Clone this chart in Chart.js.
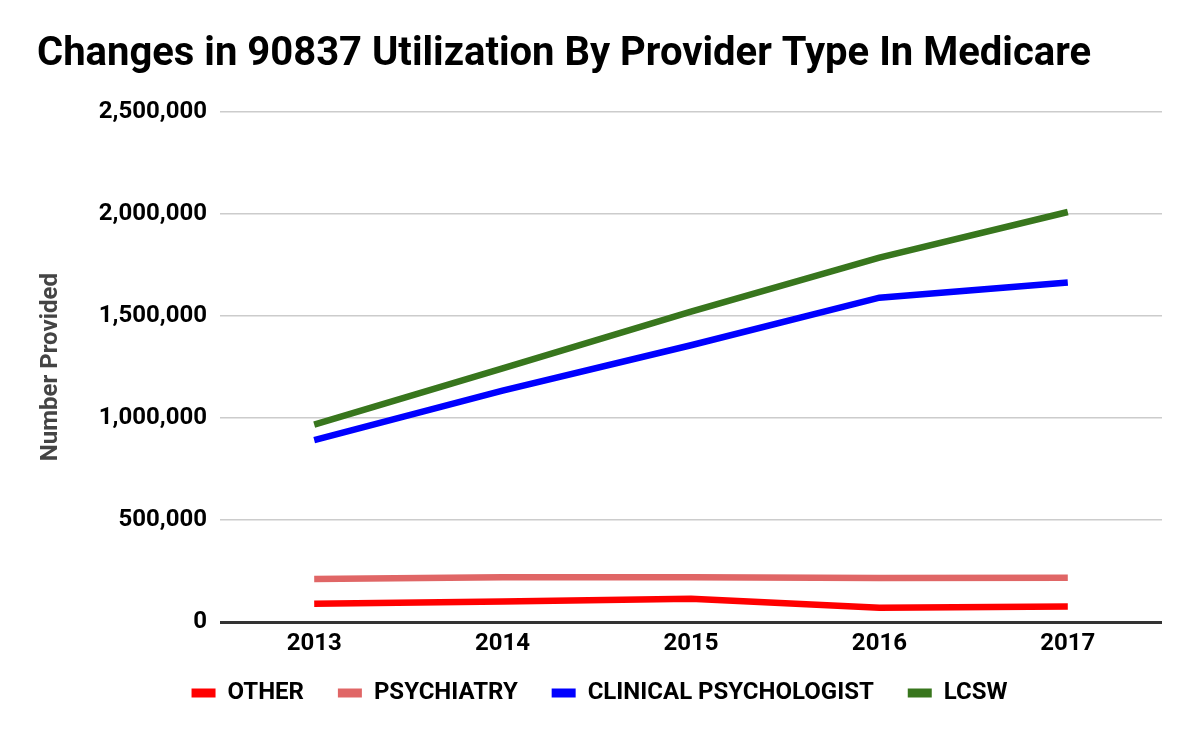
<!DOCTYPE html>
<html>
<head>
<meta charset="utf-8">
<script src="https://cdn.jsdelivr.net/npm/chart.js@4/dist/chart.umd.min.js"></script>
<style>
  html, body { margin: 0; padding: 0; background: #fff; }
  #wrap { width: 1200px; height: 742px; position: relative; }
</style>
</head>
<body>
<div id="wrap"><canvas id="c" width="1200" height="742"></canvas></div>
<script>
const years = ["2013", "2014", "2015", "2016", "2017"];
const other = [90000, 102000, 115000, 71000, 77000];
const psychiatry = [212000, 220000, 220000, 216000, 218000];
const clinicalPsychologist = [892000, 1135000, 1357000, 1590000, 1665000];
const lcsw = [968000, 1244000, 1522000, 1786000, 2010000];
const seriesNames = ["OTHER", "PSYCHIATRY", "CLINICAL PSYCHOLOGIST", "LCSW"];
const seriesColors = ["#ff0000", "#e06666", "#0000ff", "#38761d"];
const yMax = 2500000;
const yStep = 500000;

const FONT = "Roboto, 'Liberation Sans', sans-serif";
const seriesData = [other, psychiatry, clinicalPsychologist, lcsw];

new Chart(document.getElementById("c"), {
  type: "line",
  data: {
    labels: years,
    datasets: seriesNames.map((n, i) => ({
      label: n,
      data: seriesData[i],
      borderColor: seriesColors[i],
      backgroundColor: seriesColors[i],
      borderWidth: 6.5,
      pointRadius: 0,
      tension: 0,
      fill: false,
      borderCapStyle: "butt"
    }))
  },
  options: {
    responsive: false,
    animation: false,
    devicePixelRatio: 1,
    layout: { padding: { left: 37, right: 38, top: 0, bottom: 27 } },
    plugins: {
      title: {
        display: true,
        text: "Changes in 90837 Utilization By Provider Type In Medicare",
        align: "start",
        color: "#000",
        font: { family: FONT, size: 40, weight: "bold" },
        padding: { top: 31, bottom: 33 }
      },
      legend: {
        position: "bottom",
        labels: {
          color: "#000",
          font: { family: FONT, size: 24, weight: "bold" },
          boxWidth: 24,
          boxHeight: 9,
          padding: 16,
          generateLabels: chart => {
            const items = Chart.defaults.plugins.legend.labels.generateLabels(chart);
            return items.map((it, i) => Object.assign(it, {
              lineWidth: 0,
              strokeStyle: "rgba(0,0,0,0)",
              text: i < items.length - 1 ? it.text + "   " : it.text
            }));
          }
        }
      },
      tooltip: { enabled: false }
    },
    scales: {
      x: {
        offset: true,
        grid: { display: false, drawTicks: false },
        border: { display: false },
        ticks: {
          color: "#000",
          font: { family: FONT, size: 24, weight: "bold" },
          padding: 7
        }
      },
      y: {
        min: 0,
        max: yMax,
        ticks: {
          stepSize: yStep,
          color: "#000",
          font: { family: FONT, size: 24, weight: "bold" },
          padding: 13,
          callback: v => v.toLocaleString("en-US")
        },
        grid: {
          drawTicks: false,
          color: ctx => ctx.tick && ctx.tick.value === 0 ? "#333333" : "#cccccc",
          lineWidth: ctx => ctx.tick && ctx.tick.value === 0 ? 3 : 1.5
        },
        border: { display: false },
        title: {
          display: true,
          text: "Number Provided",
          color: "#444",
          font: { family: FONT, size: 24, weight: "bold" },
          padding: { top: 0, bottom: 20 }
        }
      }
    }
  }
});
</script>
</body>
</html>
